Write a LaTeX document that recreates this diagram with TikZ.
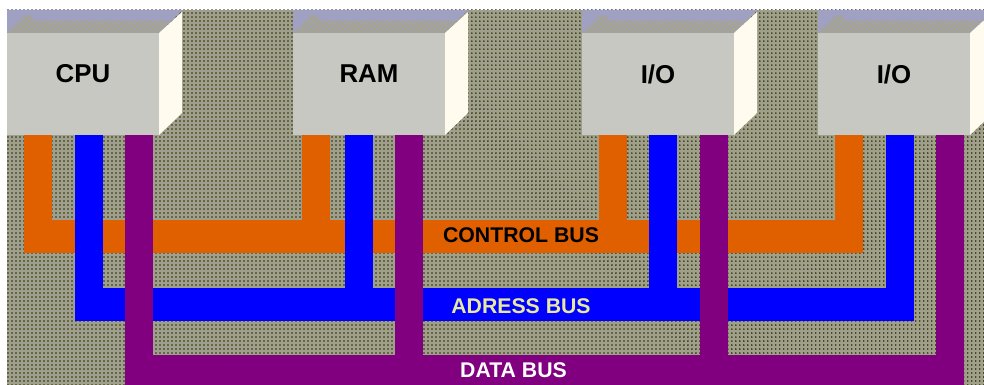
\documentclass[tikz,border=0pt]{standalone}
\usepackage{fontspec}
\setmainfont{Liberation Sans}
\usetikzlibrary{calc,patterns,patterns.meta}
\definecolor{cBg}{HTML}{A2A27E}
\definecolor{cDot}{HTML}{262626}
\definecolor{cDotL}{HTML}{9494C8}
\definecolor{cLav}{HTML}{A0A0C2}
\definecolor{cOlive}{HTML}{A8A682}
\definecolor{cFace}{HTML}{C8C8C2}
\definecolor{cSide}{HTML}{FFFBEF}
\definecolor{cCtl}{HTML}{E06000}
\definecolor{cAdr}{HTML}{0000FF}
\definecolor{cDat}{HTML}{800080}
\definecolor{cAdrTxt}{HTML}{E8E8A0}
\tikzset{
  front/.style ={fill=cFace,minimum width=3.04cm,minimum height=2.04cm,inner sep=0pt},
  boxlbl/.style={font=\fontsize{14.7}{16}\selectfont\bfseries,inner sep=0pt},
  buslbl/.style={font=\fontsize{12.1}{14}\selectfont\bfseries,inner sep=0pt},
  vbus/.style  ={line width=0.56cm},
  hbus/.style  ={line width=0.66cm},
}

\begin{document}
\begin{tikzpicture}[x=0.02cm,y=-0.02cm]
\useasboundingbox (0,0) rectangle (984,385);
\clip (0,0) rectangle (984,385);

% textured ground
\fill[cBg] (7,10) rectangle (984,385);
\fill[pattern={Dots[distance=0.08cm,radius=0.5pt]},pattern color=cDot] (7,10) rectangle (984,385);
\fill[pattern={Dots[distance=0.08cm,radius=0.45pt,xshift=0.04cm,yshift=0.04cm]},pattern color=cDotL] (7,10) rectangle (984,385);

% boxes
\foreach \x/\nm/\txt in {7/cpu/CPU,293/ram/RAM,582/ioa/{I/O},818/iob/{I/O}}{
  \fill[cLav] (\x,10) -- ({\x+175},10) -- ({\x+152},33) -- (\x,33) -- cycle;
  \fill[cOlive,postaction={pattern=crosshatch,pattern color=cLav}]
    (\x,33) -- ({\x+20},14) -- ({\x+28},21) -- ({\x+163},21) -- ({\x+152},33) -- cycle;
  \fill[cSide] ({\x+152},33) -- ({\x+175},12) -- ({\x+175},113) -- ({\x+152},135) -- cycle;
  \node[front] (\nm) at ({\x+76},84) {};
  \node[boxlbl] (\nm-lbl) at ({\x+76},74) {\txt};
}

% control bus
\coordinate (ctlW) at (24,236.5);
\coordinate (ctlE) at (863,236.5);
\foreach \nm/\o in {cpu/31,ram/23,ioa/31,iob/31}
  \draw[vbus,cCtl] ($(\nm.south west)+(\o,0)$) -- ++(0,118);
\draw[hbus,cCtl] (ctlW) -- (ctlE);
\node[buslbl] (ctl-lbl) at (521,235.5) {CONTROL BUS};

% address bus
\coordinate (adrW) at (75,304.5);
\coordinate (adrE) at (914,304.5);
\foreach \nm/\o in {cpu/82,ram/66,ioa/81.5,iob/82}
  \draw[vbus,cAdr] ($(\nm.south west)+(\o,0)$) -- ++(0,186);
\draw[hbus,cAdr] (adrW) -- (adrE);
\node[buslbl,text=cAdrTxt] (adr-lbl) at (521,306) {ADRESS BUS};

% data bus
\coordinate (datW) at (125,371);
\coordinate (datE) at (964,371);
\foreach \nm/\o in {cpu/132,ram/116,ioa/132,iob/132}
  \draw[vbus,cDat] ($(\nm.south west)+(\o,0)$) -- ++(0,250);
\draw[hbus,cDat] (datW) -- (datE);
\node[buslbl,text=white] (dat-lbl) at (513.5,370.5) {DATA BUS};
\end{tikzpicture}
\end{document}
